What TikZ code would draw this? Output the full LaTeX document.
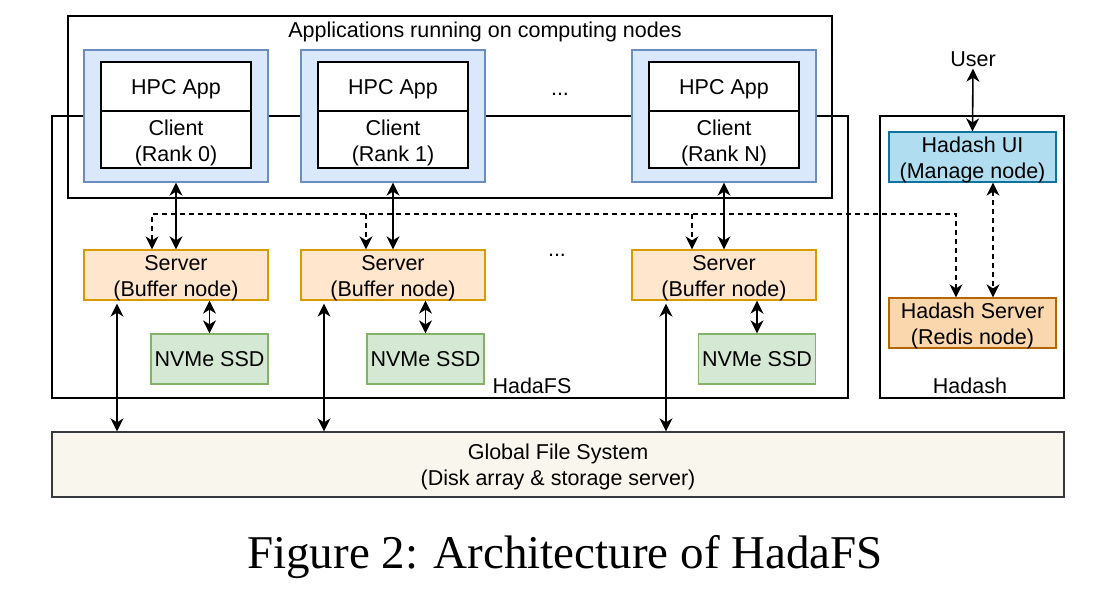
\documentclass[tikz,border=0pt]{standalone}
\usepackage{fontspec}
\setmainfont{Liberation Sans}
\newfontfamily\capfont{Liberation Serif}
\usetikzlibrary{arrows.meta}
\definecolor{bluefill}{HTML}{DAE8FC}
\definecolor{bluedraw}{HTML}{6C8EBF}
\definecolor{uifill}{HTML}{B1DDF0}
\definecolor{uidraw}{HTML}{10739E}
\definecolor{hsfill}{HTML}{FAD7AC}
\definecolor{hsdraw}{HTML}{B46504}
\definecolor{srvfill}{HTML}{FFE6CC}
\definecolor{srvdraw}{HTML}{D79B00}
\definecolor{ssdfill}{HTML}{D5E8D4}
\definecolor{ssddraw}{HTML}{82B366}
\definecolor{gfsfill}{HTML}{F9F7ED}
\definecolor{gfsdraw}{HTML}{36393D}
\tikzset{
  every node/.style={font=\fontsize{21.5}{26}\selectfont, align=center, inner sep=0pt},
  frame/.style={draw=black, line width=1.3pt},
  bluebox/.style={draw=bluedraw, fill=bluefill, line width=1.3pt, minimum width=184pt, minimum height=132pt},
  whitebox/.style={draw=black, fill=white, line width=1.3pt, minimum width=150pt},
  srvbox/.style={draw=srvdraw, fill=srvfill, line width=1.3pt, minimum width=184pt, minimum height=50pt},
  ssdbox/.style={draw=ssddraw, fill=ssdfill, line width=1.3pt, minimum width=117pt, minimum height=50pt},
  conn/.style={line width=1.6pt, {Stealth[length=13pt,width=13pt,inset=4pt]}-{Stealth[length=13pt,width=13pt,inset=4pt]}},
  dconn/.style={conn, dash pattern=on 5pt off 4pt},
  done/.style={line width=1.6pt, dash pattern=on 5pt off 4pt, -{Stealth[length=13pt,width=13pt,inset=4pt]}},
}
\begin{document}
\begin{tikzpicture}[x=1pt,y=-1pt]
\useasboundingbox (0,0) rectangle (1093,597);
% frames
\node[frame, minimum width=764pt, minimum height=182pt] (apps) at (450,107) {};
\node (appslbl) at (485,32) {Applications running on computing nodes};
\node[frame, minimum width=796pt, minimum height=282pt] (hadafs) at (450,257) {};
\node[frame, minimum width=184pt, minimum height=282pt] (hadash) at (972,257) {};
\node[fill=white, inner xsep=2pt, inner ysep=1pt] (hadafslbl) at (532,386) {HadaFS};
\node[fill=white, inner xsep=2pt, inner ysep=1pt] (hadashlbl) at (970,386) {Hadash};
% application nodes
\foreach \i/\x/\r in {0/176/0, 1/393/1, 2/724/N}{
  \node[bluebox] (blue\i) at (\x,116) {};
  \node[whitebox, minimum height=49pt, text depth=-2pt] (app\i) at (\x,86.5) {HPC App};
  \node[whitebox, minimum height=57pt] (cl\i) at (\x,139.5) {};
  \node (cltxt\i) at (\x,142.5) {Client\\(Rank \r)};
  \node[srvbox] (srv\i) at (\x,275) {};
  \node (srvtxt\i) at (\x,278) {Server\\(Buffer node)};
}
\node (dots1) at (560,94) {...};
\node (dots2) at (557,255) {...};
\node[ssdbox] (ssd0) at (209.5,359) {NVMe SSD};
\node[ssdbox] (ssd1) at (425.5,359) {NVMe SSD};
\node[ssdbox] (ssd2) at (757,359) {NVMe SSD};
% hadash
\node (user) at (973,59) {User};
\node[draw=uidraw, fill=uifill, line width=1.3pt, minimum width=167pt, minimum height=50pt] (ui) at (972.5,157) {};
\node (uitxt) at (972.5,160) {Hadash UI\\(Manage node)};
\node[draw=hsdraw, fill=hsfill, line width=1.3pt, minimum width=167pt, minimum height=50pt] (hs) at (972.5,323) {};
\node (hstxt) at (972.5,326) {Hadash Server\\(Redis node)};
% global fs
\node[draw=gfsdraw, fill=gfsfill, line width=1.3pt, minimum width=1012pt, minimum height=65pt] (gfs) at (558,464.5) {};
\node (gfstxt) at (558,467) {Global File System\\(Disk array \& storage server)};
\node[font=\capfont\fontsize{47}{54}\selectfont] (cap) at (565,557) {Figure 2: Architecture of HadaFS};
% connectors
\draw[conn] (blue0.south) -- (srv0.north);
\draw[conn] (blue1.south) -- (srv1.north);
\draw[conn] (blue2.south) -- (srv2.north);
\draw[conn] (ssd0.north |- srv0.south) -- (ssd0.north);
\draw[conn] (ssd1.north |- srv1.south) -- (ssd1.north);
\draw[conn] (ssd2.north |- srv2.south) -- (ssd2.north);
\draw[conn] ([xshift=-59pt,yshift=-3pt]srv0.south) -- ([xshift=-59pt]srv0.south |- gfs.north);
\draw[conn] ([xshift=-69pt,yshift=-3pt]srv1.south) -- ([xshift=-69pt]srv1.south |- gfs.north);
\draw[conn] ([xshift=-58pt,yshift=-3pt]srv2.south) -- ([xshift=-58pt]srv2.south |- gfs.north);
\coordinate (busL) at (152,214);
\draw[dconn] ([xshift=-16.5pt]hs.north) |- (busL) -- ([xshift=-24pt]srv0.north);
\draw[done] ([xshift=-27pt]srv1.north |- busL) -- ([xshift=-27pt]srv1.north);
\draw[done] ([xshift=-32pt]srv2.north |- busL) -- ([xshift=-32pt]srv2.north);
\draw[dconn] ([xshift=20.5pt]ui.south) -- ([xshift=20.5pt]hs.north);
\draw[conn] ([yshift=-2pt]user.south) -- (ui.north);
\end{tikzpicture}
\end{document}
